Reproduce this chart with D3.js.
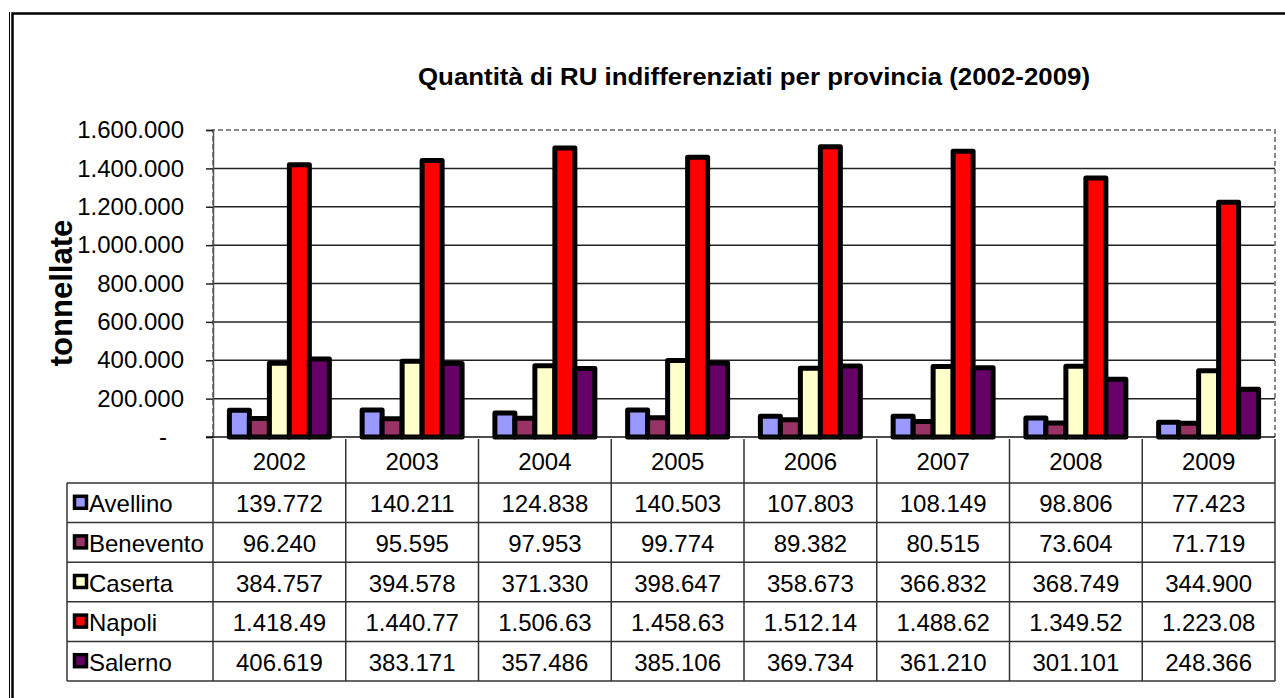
<!DOCTYPE html>
<html>
<head>
<meta charset="utf-8">
<script src="https://cdn.jsdelivr.net/npm/d3@7"></script>
<style>
  body { margin: 0; background: #fff; }
  svg text { font-family: "Liberation Sans", Arial, sans-serif; fill: #000; }
</style>
</head>
<body>
<div id="canvas"></div>
<script>
"use strict";

/* data (tonnellate) */
const years = ["2002", "2003", "2004", "2005", "2006", "2007", "2008", "2009"];
const provinces = ["Avellino", "Benevento", "Caserta", "Napoli", "Salerno"];
const avellino  = [139772, 140211, 124838, 140503, 107803, 108149, 98806, 77423];
const benevento = [96240, 95595, 97953, 99774, 89382, 80515, 73604, 71719];
const caserta   = [384757, 394578, 371330, 398647, 358673, 366832, 368749, 344900];
const napoli    = [1418490, 1440770, 1506630, 1458630, 1512140, 1488620, 1349520, 1223080];
const salerno   = [406619, 383171, 357486, 385106, 369734, 361210, 301101, 248366];
const yTicks = [0, 200000, 400000, 600000, 800000, 1000000, 1200000, 1400000, 1600000];
const colors = ["#9999FF", "#993366", "#FFFFCC", "#FF0000", "#660066"];

const series = [avellino, benevento, caserta, napoli, salerno];

const W = 1285, H = 698;
const plotL = 213, plotR = 1275, plotT = 130, plotB = 437;
const headerB = 483, rowH = 39.6, legendL = 67;

const it = d3.formatLocale({ decimal: ",", thousands: ".", grouping: [3], currency: ["€", ""] });
const fmt = it.format(",d");
// excel cells cut the 7-digit numbers
const cellText = v => fmt(v).slice(0, 8);

const svg = d3.select("#canvas").append("svg")
  .attr("width", W).attr("height", H);

// outer frame (double line on the left)
svg.append("rect")
  .attr("x", 12.5).attr("y", 13.5)
  .attr("width", W + 20).attr("height", H + 20)
  .attr("fill", "none").attr("stroke", "#000").attr("stroke-width", 2.5);
svg.append("line")
  .attr("x1", 9.5).attr("x2", 9.5).attr("y1", 12).attr("y2", H)
  .attr("stroke", "#000").attr("stroke-width", 1);

// scales
const x = d3.scaleBand().domain(years).range([plotL, plotR]);
const xs = d3.scaleBand().domain(provinces).range([0, x.bandwidth()]).paddingOuter(0.82);
const y = d3.scaleLinear().domain([0, 1600000]).range([plotB, plotT]);

// gridlines
svg.append("g").selectAll("line")
  .data(yTicks.filter(d => d > 0 && d < 1600000))
  .join("line")
  .attr("x1", plotL).attr("x2", plotR)
  .attr("y1", d => y(d)).attr("y2", d => y(d))
  .attr("stroke", "#222").attr("stroke-width", 1.5);

// plot area border (dashed)
svg.append("path")
  .attr("d", `M${plotL},${plotB}V${plotT}H${plotR}V${plotB}`)
  .attr("fill", "none").attr("stroke", "#888")
  .attr("stroke-width", 2).attr("stroke-dasharray", "5,3");

// y axis
const yAxis = d3.axisLeft(y)
  .tickValues(yTicks)
  .tickSize(7)
  .tickPadding(22)
  .tickFormat(d => d === 0 ? "-" : fmt(d));

const ya = svg.append("g")
  .attr("transform", `translate(${plotL},0)`)
  .call(yAxis);
ya.select(".domain").attr("stroke", "#555").attr("stroke-width", 1.5);
ya.selectAll(".tick line").attr("stroke", "#222").attr("stroke-width", 1.5);
ya.selectAll(".tick text")
  .attr("font-size", 24)
  .attr("font-family", "'Liberation Sans', Arial, sans-serif")
  .attr("dx", d => d === 0 ? -17 : 0);

// bars
provinces.forEach((p, i) => {
  svg.append("g").selectAll("rect")
    .data(series[i])
    .join("rect")
    .attr("x", (d, j) => x(years[j]) + xs(p))
    .attr("y", d => y(d))
    .attr("width", xs.bandwidth())
    .attr("height", d => plotB - y(d))
    .attr("fill", colors[i])
    .attr("stroke", "#000")
    .attr("stroke-width", 5)
    .attr("stroke-linejoin", "round");
});

// baseline
svg.append("line")
  .attr("x1", plotL - 7).attr("x2", plotR)
  .attr("y1", plotB).attr("y2", plotB)
  .attr("stroke", "#111").attr("stroke-width", 1.5);

// data table
const table = svg.append("g");
const tableB = headerB + rowH * provinces.length;
const lineStyle = sel => sel.attr("stroke", "#333").attr("stroke-width", 1.5);

// vertical lines at category edges
table.selectAll("line.col")
  .data(years.map(yr => x(yr)).concat([plotR]))
  .join("line").attr("class", "col")
  .attr("x1", d => d).attr("x2", d => d)
  .attr("y1", plotB + 2).attr("y2", tableB)
  .call(lineStyle);

// horizontal row lines
table.selectAll("line.row")
  .data(d3.range(provinces.length + 1))
  .join("line").attr("class", "row")
  .attr("x1", legendL).attr("x2", plotR)
  .attr("y1", i => headerB + i * rowH).attr("y2", i => headerB + i * rowH)
  .call(lineStyle);

table.append("line")
  .attr("x1", legendL).attr("x2", legendL)
  .attr("y1", headerB).attr("y2", tableB)
  .call(lineStyle);

// year headers
table.selectAll("text.year")
  .data(years)
  .join("text").attr("class", "year")
  .attr("x", d => x(d) + x.bandwidth() / 2)
  .attr("y", (plotB + headerB) / 2 + 1)
  .attr("text-anchor", "middle")
  .attr("dominant-baseline", "central")
  .attr("font-size", 24)
  .text(d => d);

provinces.forEach((p, i) => {
  const cy = headerB + rowH * i + rowH / 2;

  // legend key
  table.append("rect")
    .attr("x", 74.5).attr("y", cy - 6.5)
    .attr("width", 12).attr("height", 12)
    .attr("fill", colors[i])
    .attr("stroke", "#000").attr("stroke-width", 3.5);

  table.append("text")
    .attr("x", 89).attr("y", cy + 1)
    .attr("dominant-baseline", "central")
    .attr("font-size", 24)
    .text(p);

  table.append("g").selectAll("text")
    .data(series[i])
    .join("text")
    .attr("x", (d, j) => x(years[j]) + x.bandwidth() / 2)
    .attr("y", cy + 1)
    .attr("text-anchor", "middle")
    .attr("dominant-baseline", "central")
    .attr("font-size", 24)
    .text(d => cellText(d));
});

// title
svg.append("text")
  .attr("x", 754).attr("y", 85)
  .attr("text-anchor", "middle")
  .attr("font-weight", "bold")
  .attr("font-size", 23)
  .attr("textLength", 672)
  .attr("lengthAdjust", "spacingAndGlyphs")
  .text("Quantità di RU indifferenziati per provincia (2002-2009)");

// y axis title
svg.append("text")
  .attr("transform", "translate(72,293) rotate(-90)")
  .attr("text-anchor", "middle")
  .attr("font-weight", "bold")
  .attr("font-size", 31)
  .text("tonnellate");
</script>
</body>
</html>
